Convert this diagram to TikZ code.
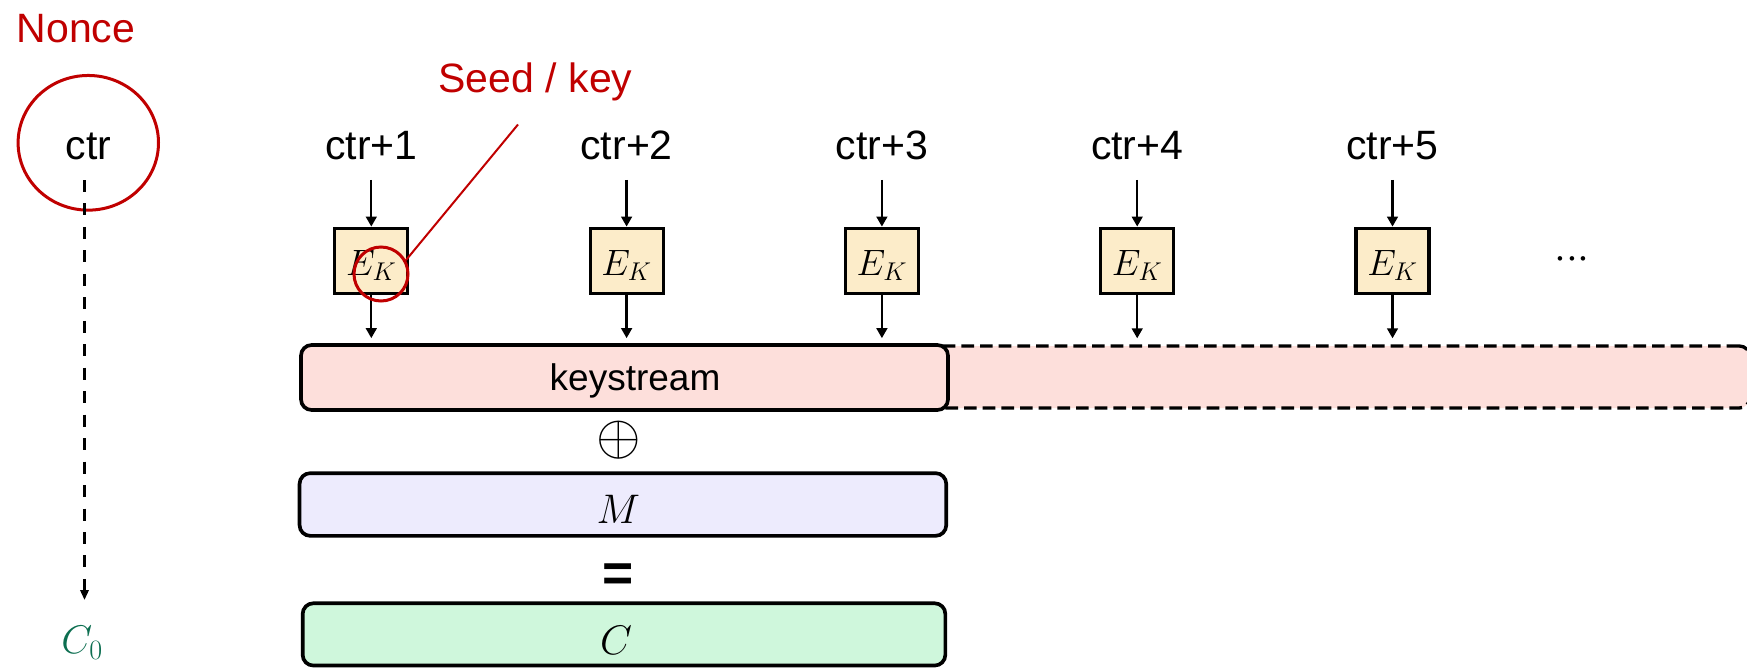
\RequirePackage{fix-cm}
\documentclass[tikz,border=0pt]{standalone}
\usepackage{fontspec}
\setmainfont{Liberation Sans}
\usetikzlibrary{arrows.meta,shapes.geometric}
\definecolor{redc}{RGB}{192,0,0}
\definecolor{greenc}{RGB}{12,110,80}
\definecolor{ekfill}{RGB}{252,236,201}
\definecolor{ksfill}{RGB}{253,223,219}
\definecolor{mfill}{RGB}{237,235,253}
\definecolor{cfill}{RGB}{207,247,220}
\begin{document}
\begin{tikzpicture}[x=0.75pt,y=-0.75pt,
  lbl/.style={font=\fontsize{30.75pt}{36pt}\selectfont, inner sep=0pt, anchor=base},
  ekbox/.style={draw, fill=ekfill, line width=2.4pt, minimum width=54.75pt, minimum height=49.2pt, inner sep=0pt, font=\fontsize{27.5pt}{33pt}\selectfont, text height=25pt, text depth=4pt},
  bigbox/.style={draw, line width=2.75pt, rounded corners=8pt, inner sep=0pt},
  arr/.style={line width=1.75pt, -{Triangle[length=7.5pt,width=8pt]}},
  darr/.style={line width=1.75pt, dash pattern=on 9pt off 8.6pt, -{Triangle[length=7.5pt,width=6.25pt]}},
]
\useasboundingbox (0,0) rectangle (1747,668);

% Nonce / ctr
\node[lbl, text=redc] (nonce) at (76,42.3) {Nonce};
\node[ellipse, draw=redc, line width=2.25pt, minimum width=105.3pt, minimum height=101pt, inner sep=0pt,
      font=\fontsize{30.75pt}{36pt}\selectfont, text height=24.75pt, text depth=0pt] (ctr) at (88.3,142.8) {ctr};
\node[anchor=base west, inner sep=0pt, text=greenc, font=\fontsize{30pt}{35pt}\selectfont] (c0) at (61,653) {$C_0$};
\coordinate (dstart) at (84.5,180);
\coordinate (dend) at (84.5,600);
\draw[darr] (dstart) -- (dend);

% counter labels
\node[lbl] (l1) at (371.3,159.3) {ctr+1};
\node[lbl] (l2) at (626.6,159.3) {ctr+2};
\node[lbl] (l3) at (881.9,159.3) {ctr+3};
\node[lbl] (l4) at (1137.2,159.3) {ctr+4};
\node[lbl] (l5) at (1392.5,159.3) {ctr+5};

% keystream boxes
\node[draw, dash pattern=on 9.5pt off 4.5pt, line width=2.5pt, rounded corners=8pt, fill=ksfill,
      minimum width=615pt, minimum height=46.5pt, inner sep=0pt] (ksd) at (1340,377) {};
\node[bigbox, fill=ksfill, minimum width=485.25pt, minimum height=48.75pt,
      font=\fontsize{27.75pt}{33pt}\selectfont, text height=19.8pt, text depth=0pt] (ks) at (624.5,377.5) {\hspace*{15.75pt}keystream};

% E_K boxes
\node[ekbox] (e1) at (371.3,261) {$E_K$};
\node[ekbox] (e2) at (626.6,261) {$E_K$};
\node[ekbox] (e3) at (881.9,261) {$E_K$};
\node[ekbox] (e4) at (1137.2,261) {$E_K$};
\node[ekbox] (e5) at (1392.5,261) {$E_K$};
\node[anchor=base, inner sep=0pt, font=\fontsize{32pt}{38pt}\selectfont] (dots) at (1572,269.7) {$\mathord{\cdot}\mathord{\cdot}\mathord{\cdot}$};

\foreach \i in {1,...,5}{
  \draw[arr, shorten <=15.5pt] (l\i.base) -- (e\i.north);
}
\foreach \i in {1,2,3}{
  \draw[arr, shorten >=3.75pt] (e\i.south) -- (e\i.south |- ks.north);
}
\foreach \i in {4,5}{
  \draw[arr, shorten >=4.5pt] (e\i.south) -- (e\i.south |- ksd.north);
}

% xor, M, =, C
\node[inner sep=0pt, font=\fontsize{43pt}{50pt}\selectfont] (xor) at (618.3,440.5) {$\oplus$};
\node[bigbox, fill=mfill, minimum width=485pt, minimum height=47pt,
      font=\fontsize{31pt}{36pt}\selectfont, text height=28.2pt, text depth=0pt] (m) at (622.9,504.5) {$M$\hspace*{7pt}};
\node[anchor=base, inner sep=0pt, font=\bfseries\fontsize{40pt}{48pt}\selectfont] (eq) at (618,591) {=};
\node[bigbox, fill=cfill, minimum width=482pt, minimum height=46.7pt,
      font=\fontsize{31pt}{36pt}\selectfont, text height=29.4pt, text depth=0pt] (c) at (624,634.4) {$C$\hspace*{12pt}};

% Seed / key annotation
\node[lbl, text=redc] (seed) at (535.5,92.7) {Seed / key};
\node[circle, draw=redc, line width=2.25pt, minimum size=40.5pt, inner sep=0pt] (sk) at (381,274) {};
\coordinate (skend) at (518,124.5);
\draw[redc, line width=1.5pt] (sk.29) -- (skend);
\end{tikzpicture}
\end{document}
